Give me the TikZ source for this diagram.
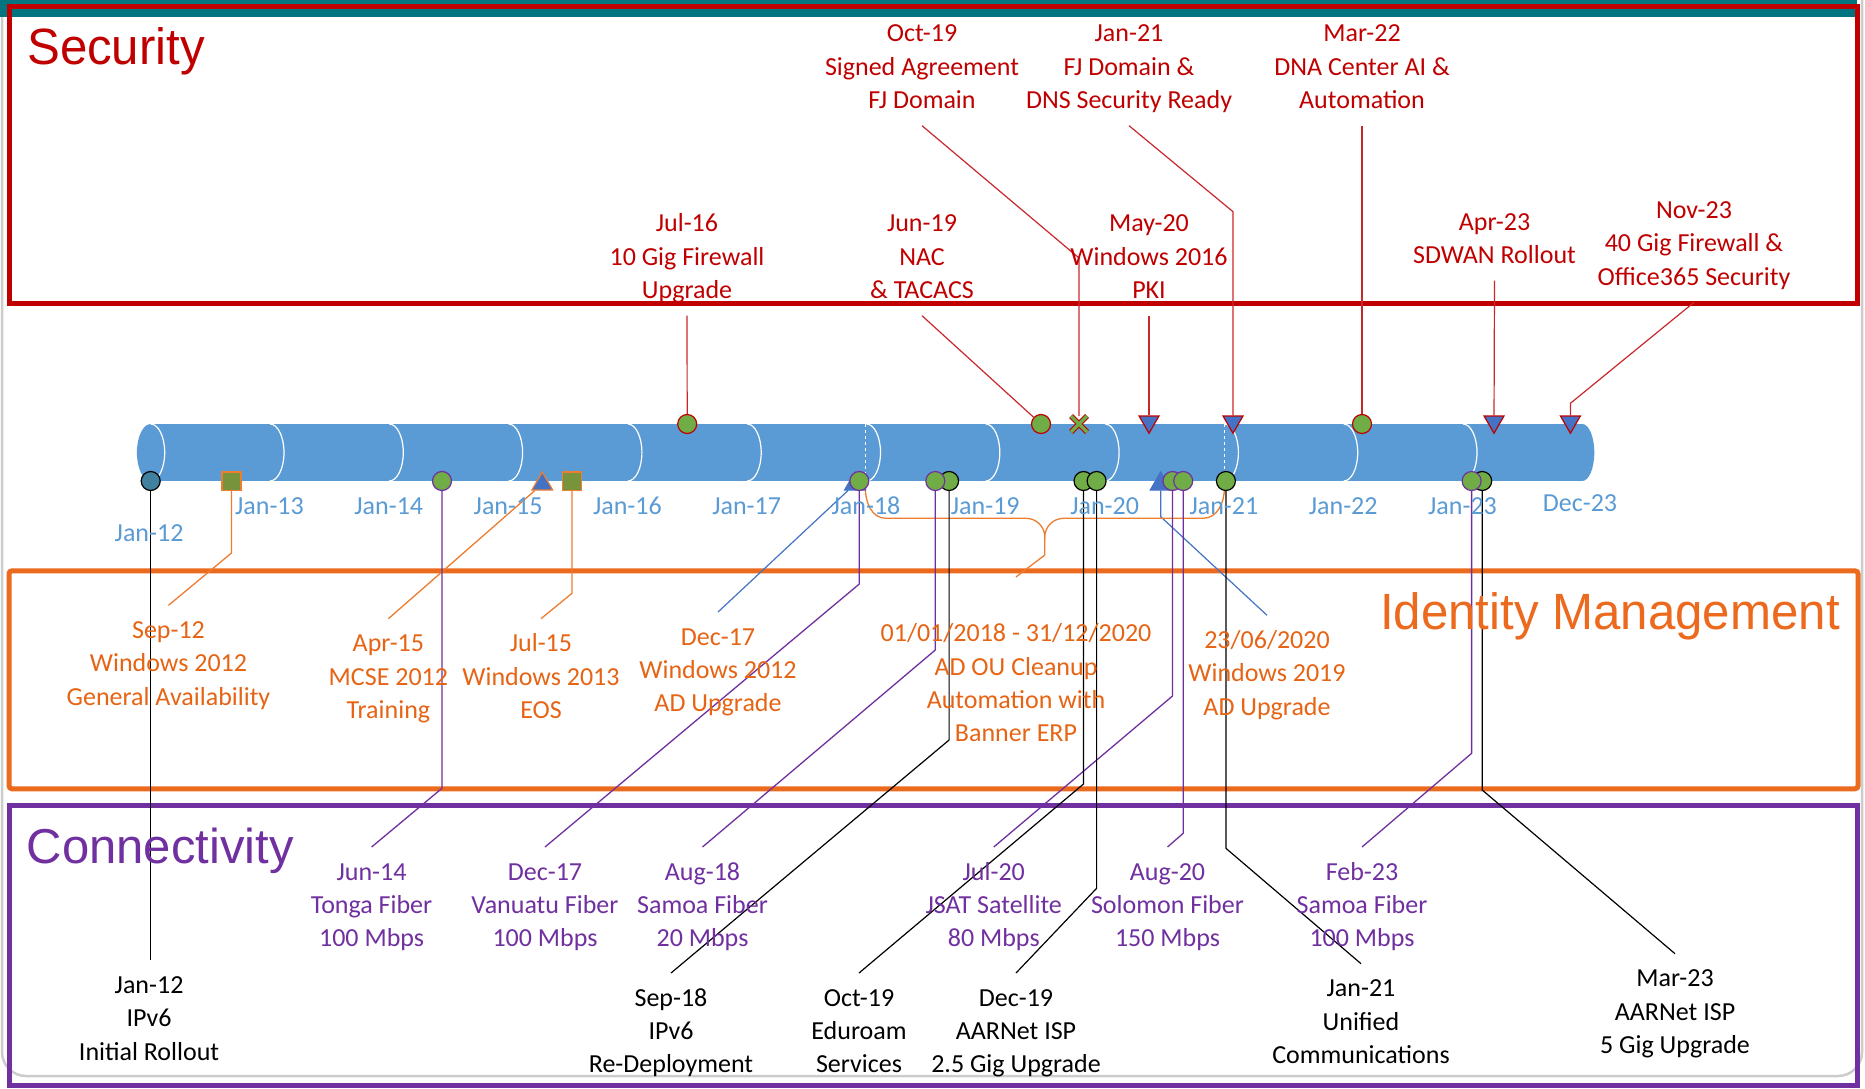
\documentclass[tikz,border=0pt]{standalone}
\usepackage{fontspec}
\newfontfamily\lab{Carlito}
\newfontfamily\ttl{Liberation Sans}
\usetikzlibrary{shapes.geometric,shapes.misc,calc}
\pgfdeclarelayer{bg}
\pgfdeclarelayer{mid}
\pgfsetlayers{bg,mid,main}
\definecolor{teal1}{HTML}{00757F}
\definecolor{secred}{HTML}{C00000}
\definecolor{secln}{HTML}{C8282C}
\definecolor{idor}{HTML}{EC6A1E}
\definecolor{idtxt}{HTML}{E66414}
\definecolor{idln}{HTML}{ED7D31}
\definecolor{cpurp}{HTML}{7030A0}
\definecolor{axblue}{HTML}{5B9BD5}
\definecolor{cyl}{HTML}{5B9BD5}
\definecolor{mgreen}{HTML}{70AD47}
\definecolor{olive}{HTML}{77933C}
\definecolor{tblue}{HTML}{4472C4}
\definecolor{dteal}{HTML}{41809F}
\newcommand\lstr{\rule[-8pt]{0pt}{32pt}}
\begin{document}
\begin{tikzpicture}[x=1pt,y=-1pt,
  lbl/.style={font=\lab\fontsize{26}{33.3}\selectfont, align=center, inner xsep=0pt, inner ysep=9pt, anchor=north,
     execute at end node=\lstr},
  slbl/.style={lbl, text=secred},
  ilbl/.style={lbl, text=idtxt},
  plbl/.style={lbl, text=cpurp},
  klbl/.style={lbl, text=black},
  axl/.style={font=\lab\fontsize{26}{30}\selectfont, text=axblue, anchor=base, inner sep=0pt},
  mk/.style={circle, minimum size=19pt, inner sep=0pt, line width=1.2pt, fill=mgreen},
  mkr/.style={mk, draw=secred},
  mkp/.style={mk, draw=cpurp},
  mkb/.style={mk, draw=black},
  sqm/.style={rectangle, minimum width=19pt, minimum height=18.5pt, inner sep=0pt, fill=olive, draw=idln, line width=1.5pt},
  tdn/.style={regular polygon, regular polygon sides=3, shape border rotate=180, minimum size=23pt, inner sep=0pt, fill=tblue, draw=secred, line width=1.2pt},
  tup/.style={regular polygon, regular polygon sides=3, minimum size=24pt, inner sep=0pt, fill=tblue, line width=1.2pt},
  xmk/.style={cross out, draw=secred, double=mgreen, double distance=3.5pt, line width=1pt, minimum size=15pt, inner sep=0pt},
  sc/.style={secln, line width=1.2pt},
  oc/.style={idln, line width=1.3pt},
  bc/.style={tblue, line width=1.2pt},
  pc/.style={cpurp, line width=1.3pt},
  kc/.style={black, line width=1.2pt},
  ttlf/.style={font=\ttl\fontsize{51}{55}\selectfont, inner sep=0pt}
]
\useasboundingbox (0,0) rectangle (1865,1089);
\begin{pgfonlayer}{bg}
\fill[white] (0,0) rectangle (1865,1089);
\draw[gray!40, line width=2.5pt, rounded corners=24pt] (2,-30) rectangle (1862,1076);
\fill[teal1] (0,0) rectangle (1857,16.7);
\draw[secred, line width=5pt] (9.4,6.7) rectangle (1857.7,303.8);
\draw[idor, line width=5pt, rounded corners=3pt] (9,570.8) rectangle (1858,788.8);
\draw[cpurp, line width=5pt] (9,805.8) rectangle (1857.7,1085.8);
% cylinder
\fill[cyl] (150.7,424) rectangle (1582.3,481);
\fill[cyl] (150.7,452.5) ellipse[x radius=13.8pt, y radius=28.5pt];
\fill[cyl] (1582.3,452.5) ellipse[x radius=12pt, y radius=28.5pt];
\foreach \k in {0,...,11}
  \draw[white, line width=1.2pt] ({150.7+119.3*\k},424) arc[start angle=90, end angle=-90, x radius=14pt, y radius=28.5pt];
\draw[white, dashed, line width=1pt] (865.3,424) -- (865.3,481);
\draw[white, dashed, line width=1pt] (1224.4,424) -- (1224.4,481);
\end{pgfonlayer}

% titles
\node[ttlf, text=secred, anchor=base west] (tsec) at (27,65) {\scalebox{0.965}[1]{Security}};
\node[ttlf, text=idor, anchor=base east] (tid) at (1840,629) {\scalebox{0.965}[1]{Identity Management}};
\node[font=\ttl\fontsize{49}{53}\selectfont, inner sep=0pt, text=cpurp, anchor=base west] (tcon) at (26.5,863.3) {Connectivity};

% axis labels
\node[axl] (a12) at (149.1,541) {Jan-12};
\node[axl] (a13) at (269.5,514.5) {Jan-13};
\node[axl] (a14) at (388.8,514.5) {Jan-14};
\node[axl] (a15) at (508.1,514.5) {Jan-15};
\node[axl] (a16) at (627.4,514.5) {Jan-16};
\node[axl] (a17) at (746.7,514.5) {Jan-17};
\node[axl] (a18) at (866,514.5) {Jan-18};
\node[axl] (a19) at (985.3,514.5) {Jan-19};
\node[axl] (a20) at (1104.6,514.5) {Jan-20};
\node[axl] (a21) at (1223.9,514.5) {Jan-21};
\node[axl] (a22) at (1343.2,514.5) {Jan-22};
\node[axl] (a23) at (1462.5,514.5) {Jan-23};
\node[axl] (a24) at (1580,511) {Dec-23};

% top markers
\node[mkr] (mJul16) at (687.2,424) {};
\node[mkr] (mJun19) at (1041,424) {};
\node[xmk] (mOct19) at (1079,424) {};
\node[tdn] (mMay20) at (1149,421.75) {};
\node[tdn] (mJan21s) at (1233,421.75) {};
\node[mkr] (mMar22) at (1362,424) {};
\node[tdn] (mApr23) at (1494,421.75) {};
\node[tdn] (mNov23) at (1570.4,421.75) {};

% bottom markers
\node[mk, fill=dteal, draw=black] (mJan12) at (150.7,481) {};
\node[sqm] (mSep12) at (231.5,481) {};
\node[mkp] (mJun14) at (442,481) {};
\node[tup, draw=idln] (mApr15) at (542.3,484) {};
\node[sqm] (mJul15) at (572,481) {};
\node[tup, draw=tblue] (mDec17t) at (855,484) {};
\node[mkp] (mDec17) at (859.3,481) {};
\node[mkb] (mSep18) at (949.1,481) {};
\node[mkp] (mAug18) at (935.3,481) {};
\node[mkb] (mOct19b) at (1083.5,481) {};
\node[mkb] (mDec19) at (1096.6,481) {};
\node[tup, draw=tblue] (mJun20) at (1160.7,484) {};
\node[mkp] (mJul20) at (1172.5,481) {};
\node[mkp] (mAug20) at (1183.2,481) {};
\node[mkb] (mJan21) at (1225.9,481) {};
\node[mkb] (mMar23) at (1482.2,481) {};
\node[mkp] (mFeb23) at (1471.6,481) {};

% security labels
\node[slbl] (lJul16) at (687,198.7) {\lstr Jul-16\\10 Gig Firewall\\Upgrade};
\node[slbl] (lJun19) at (922,198.7) {\lstr Jun-19\\NAC\\\& TACACS};
\node[slbl] (lMay20) at (1149,198.7) {\lstr May-20\\Windows 2016\\PKI};
\node[slbl] (lApr23) at (1494.5,197) {\lstr Apr-23\\SDWAN Rollout};
\node[slbl] (lNov23) at (1694,185.3) {\lstr Nov-23\\40 Gig Firewall \&\\Office365 Security};
\node[slbl] (lOct19) at (922,8.7) {\lstr Oct-19\\Signed Agreement\\FJ Domain};
\node[slbl] (lJan21s) at (1129,8.7) {\lstr Jan-21\\FJ Domain \&\\DNS Security Ready};
\node[slbl] (lMar22) at (1362,8.7) {\lstr Mar-22\\DNA Center AI \&\\Automation};

% identity labels
\node[ilbl] (lSep12) at (168.5,605.3) {\lstr Sep-12\\Windows 2012\\General Availability};
\node[ilbl] (lApr15) at (388.4,618.7) {\lstr Apr-15\\MCSE 2012\\Training};
\node[ilbl] (lJul15) at (541,618.7) {\lstr Jul-15\\Windows 2013\\EOS};
\node[ilbl] (lDec17) at (718,612) {\lstr Dec-17\\Windows 2012\\AD Upgrade};
\node[ilbl] (lADOU) at (1016,608.7) {\lstr 01/01/2018 - 31/12/2020\\AD OU Cleanup\\Automation with\\Banner ERP};
\node[ilbl] (l2306) at (1267,615.3) {\lstr 23/06/2020\\Windows 2019\\AD Upgrade};

% connectivity labels
\node[plbl] (lJun14) at (371.6,847) {\lstr Jun-14\\Tonga Fiber\\100 Mbps};
\node[plbl] (lDec17c) at (545,847) {\lstr Dec-17\\Vanuatu Fiber\\100 Mbps};
\node[plbl] (lAug18) at (702.5,847) {\lstr Aug-18\\Samoa Fiber\\20 Mbps};
\node[plbl] (lJul20) at (993.75,847) {\lstr Jul-20\\JSAT Satellite\\80 Mbps};
\node[plbl] (lAug20) at (1167.5,847) {\lstr Aug-20\\Solomon Fiber\\150 Mbps};
\node[plbl] (lFeb23) at (1362,847) {\lstr Feb-23\\Samoa Fiber\\100 Mbps};
\node[klbl] (lJan12) at (149.1,960.3) {\lstr Jan-12\\IPv6\\Initial Rollout};
\node[klbl] (lSep18) at (671,973) {\lstr Sep-18\\IPv6\\Re-Deployment};
\node[klbl] (lOct19b) at (859,973) {\lstr Oct-19\\Eduroam\\Services};
\node[klbl] (lDec19) at (1016,973) {\lstr Dec-19\\AARNet ISP\\2.5 Gig Upgrade};
\node[klbl] (lJan21b) at (1361,963.7) {\lstr Jan-21\\Unified\\Communications};
\node[klbl] (lMar23) at (1675,953.7) {\lstr Mar-23\\AARNet ISP\\5 Gig Upgrade};

\begin{pgfonlayer}{mid}
% security connectors
\draw[sc] (lJul16.south) -- (mJul16);
\draw[sc] (lJun19.south) -- (mJun19);
\draw[sc] (lOct19.south) -- (mOct19 |- 0,258) -- (mOct19);
\draw[sc] (lJan21s.south) -- (mJan21s |- 0,211.7) -- (mJan21s);
\draw[sc] (lMar22.south) -- (mMar22);
\draw[sc] (lMay20.south) -- (mMay20);
\draw[sc] (lApr23.south) -- (mApr23);
\draw[sc] (lNov23.south) -- (mNov23 |- 0,403.3) -- (mNov23);
% identity connectors
\draw[oc] (mSep12) -- (mSep12 |- 0,553) -- (lSep12.north);
\draw[oc] (mApr15) -- (lApr15.north);
\draw[oc] (mJul15) -- (mJul15 |- 0,593.3) -- (lJul15.north);
\draw[bc] (mDec17t) -- (lDec17.north);
\draw[bc] (mJun20) -- (mJun20 |- 0,516.7) -- (l2306.north);
\coordinate (bL) at (865.3,488);
\coordinate (bR) at (1224.4,488);
\coordinate (bT) at (1044.8,537);
\draw[oc] (bL) to[out=-90,in=180] (886,518.3) -- (1026,518.3) to[out=0,in=90] (bT)
  to[out=90,in=180] (1063.6,518.3) -- (1203,518.3) to[out=0,in=-90] (bR);
\draw[oc] (bT) -- (1044.8,555) -- (lADOU.north |- 0,577);
% connectivity connectors
\draw[pc] (mJun14) -- (mJun14 |- 0,788.3) -- (lJun14.north);
\draw[pc] (mDec17) -- (mDec17 |- 0,584) -- (lDec17c.north);
\draw[pc] (mAug18) -- (mAug18 |- 0,650) -- (lAug18.north);
\draw[pc] (mJul20) -- (mJul20 |- 0,696) -- (lJul20.north);
\draw[pc] (mAug20) -- (mAug20 |- 0,833.3) -- (lAug20.north);
\draw[pc] (mFeb23) -- (mFeb23 |- 0,753.3) -- (lFeb23.north);
\draw[kc] (mJan12) -- (mJan12 |- lJan12.north);
\draw[kc] (mSep18) -- (mSep18 |- 0,740) -- (lSep18.north);
\draw[kc] (mOct19b) -- (mOct19b |- 0,784) -- (lOct19b.north);
\draw[kc] (mDec19) -- (mDec19 |- 0,888.3) -- (lDec19.north);
\draw[kc] (mJan21) -- (mJan21 |- 0,848.3) -- (lJan21b.north);
\draw[kc] (mMar23) -- (mMar23 |- 0,790) -- (lMar23.north);
\end{pgfonlayer}
\end{tikzpicture}
\end{document}
